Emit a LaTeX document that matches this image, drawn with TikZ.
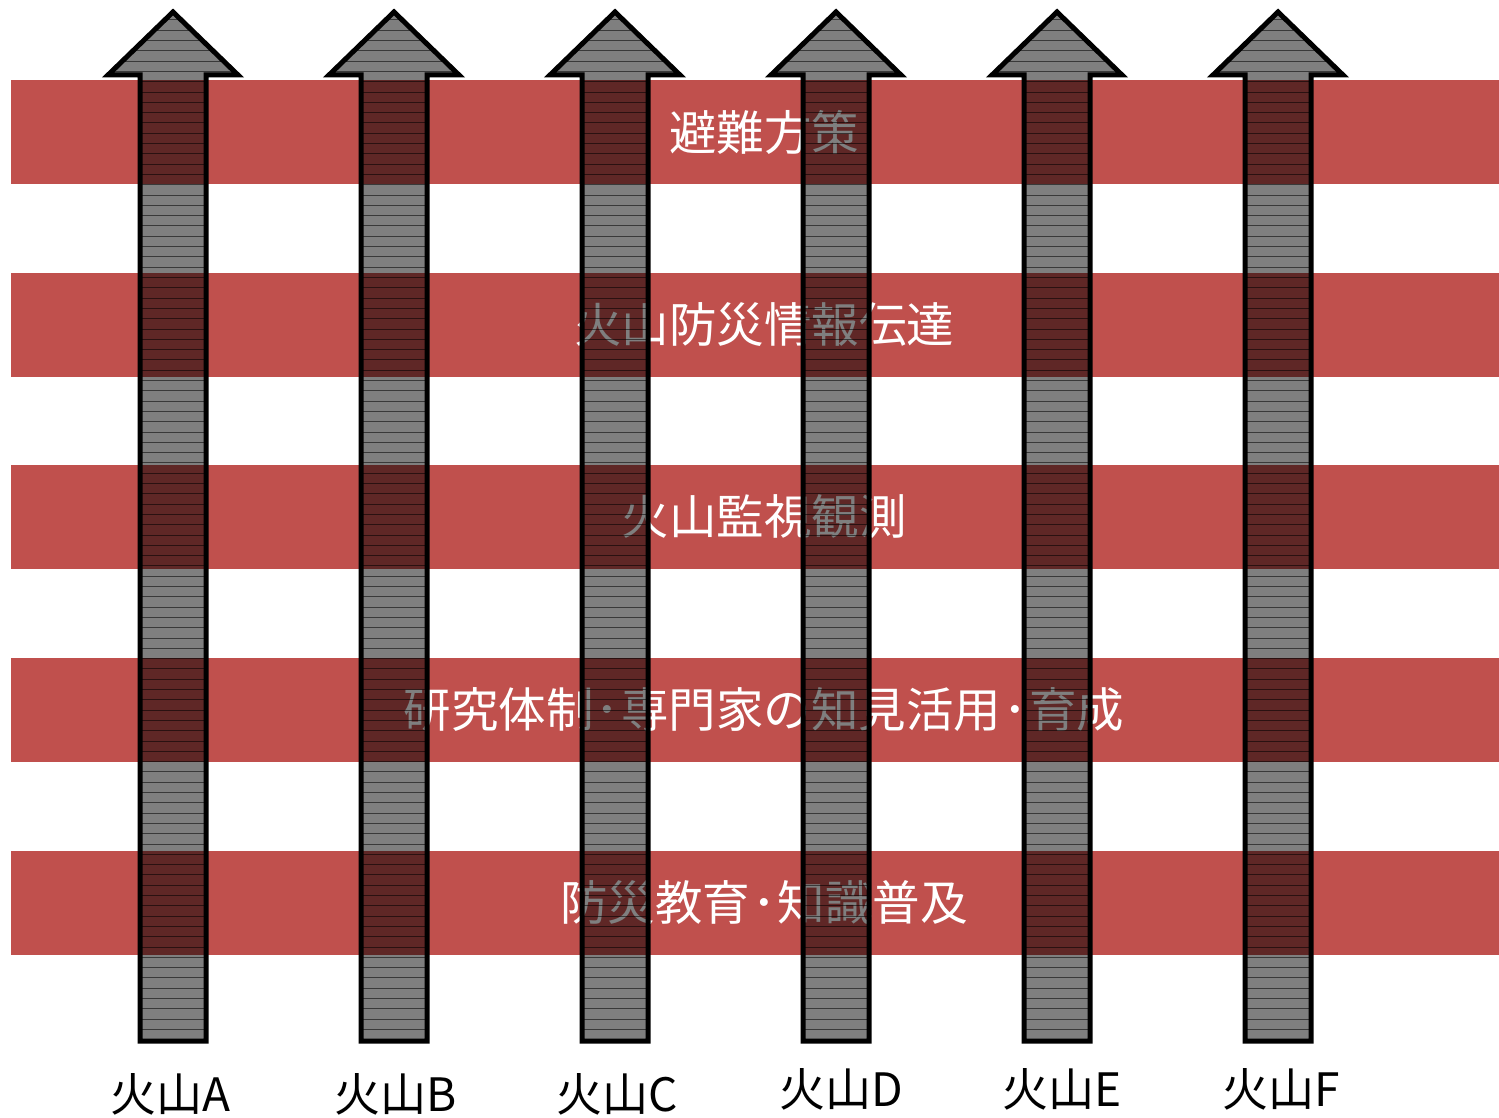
\documentclass[tikz,border=0pt]{standalone}
\usepackage{fontspec}
\newfontfamily\cjk{Noto Sans CJK JP}
\definecolor{bandred}{HTML}{C0504D}
\newcommand{\hdot}{\hspace{2pt}･\hspace{2pt}}
\begin{document}
\begin{tikzpicture}[x=1pt,y=-1pt,
  band/.style={fill=bandred,draw=none},
  bandtext/.style={text=white,font=\cjk\fontsize{47.5}{50}\selectfont,inner sep=0pt,anchor=center},
  vlabel/.style={text=black,font=\cjk\fontsize{46}{50}\selectfont,inner sep=0pt,anchor=center},
  arrowoutline/.style={draw=black,line width=5pt,line join=miter,fill=none},
  arrowfill/.style={fill=black,fill opacity=0.5,draw=none}]
\useasboundingbox (0,0) rectangle (1499,1118);
% bands
\foreach \t/\n in {80/b1,273/b2,465/b3,658/b4,851/b5}{
  \path[band] (11,\t) rectangle (1499,\t+104);
  \coordinate (\n) at (764,\t+52);
}
\node[bandtext] (t1) at (b1) {避難方策};
\node[bandtext] (t2) at (b2) {火山防災情報伝達};
\node[bandtext] (t3) at (b3) {火山監視観測};
\node[bandtext] (t4) at (b4) {研究体制\hdot 専門家の知見活用\hdot 育成};
\node[bandtext] (t5) at (b5) {防災教育\hdot 知識普及};
% arrows
\foreach \c in {173,394,615,836,1057,1278}{
  \path[arrowfill] (\c-33,1041) -- (\c-33,75) -- (\c-65,75) -- (\c,12) -- (\c+65,75) -- (\c+33,75) -- (\c+33,1041) -- cycle;
  \begin{scope}
    \clip (\c-33,1041) -- (\c-33,75) -- (\c-65,75) -- (\c,12) -- (\c+65,75) -- (\c+33,75) -- (\c+33,1041) -- cycle;
    \foreach \yy in {0,...,101}{
      \draw[black,opacity=0.55,line width=1pt] (\c-70,20+\yy*10.3) -- (\c+70,20+\yy*10.3);
    }
  \end{scope}
  \path[arrowoutline] (\c-33,1041) -- (\c-33,75) -- (\c-65,75) -- (\c,12) -- (\c+65,75) -- (\c+33,75) -- (\c+33,1041) -- cycle;
}
% labels
\node[vlabel] (la) at (170,1094) {火山A};
\node[vlabel] (lb) at (396,1094) {火山B};
\node[vlabel] (lc) at (617,1094) {火山C};
\node[vlabel] (ld) at (841,1089) {火山D};
\node[vlabel] (le) at (1062,1089) {火山E};
\node[vlabel] (lf) at (1281,1089) {火山F};
\end{tikzpicture}
\end{document}
